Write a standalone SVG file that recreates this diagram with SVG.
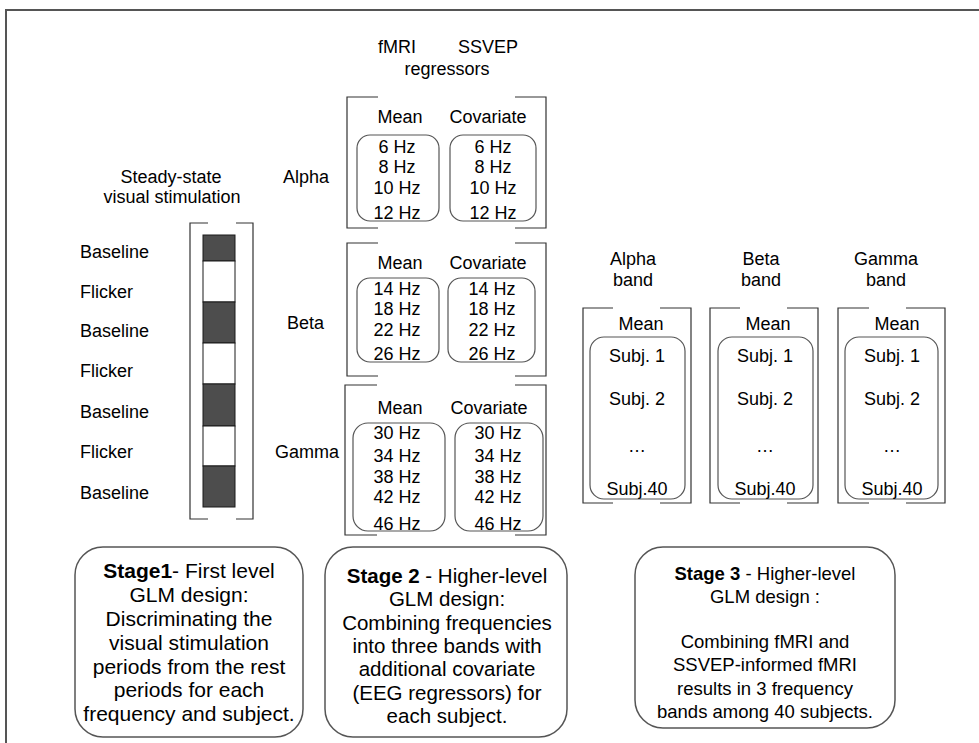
<svg xmlns="http://www.w3.org/2000/svg" width="979" height="743" viewBox="0 0 979 743">
<style>
text{font-family:"Liberation Sans",Arial,sans-serif;font-size:18px;fill:#000}
.c{text-anchor:middle}
.br{fill:none;stroke:#333;stroke-width:1.2}
.ib{fill:none;stroke:#555;stroke-width:1.2}
.sb{fill:#fff;stroke:#555;stroke-width:1.5}
.dk{fill:#4d4d4d;stroke:#1a1a1a;stroke-width:1}
.wt{fill:#fff;stroke:#1a1a1a;stroke-width:1}
.b{font-weight:bold}
.s1{font-size:21px}
.s2{font-size:20.5px}
.s3{font-size:18.5px}
</style>
<rect width="979" height="743" fill="#fff"/>
<path d="M6 743V10H979" fill="none" stroke="#555" stroke-width="2"/>

<g id="stimulation">
  <text class="c" x="171" y="183">Steady-state</text>
  <text class="c" x="172" y="203">visual stimulation</text>
  <path class="br" d="M208 223H190V519H208M236 223H253V519H236"/>
  <rect class="dk" x="203" y="235" width="32" height="26"/>
  <rect class="wt" x="203" y="261" width="32" height="41"/>
  <rect class="dk" x="203" y="302" width="32" height="41"/>
  <rect class="wt" x="203" y="343" width="32" height="41"/>
  <rect class="dk" x="203" y="384" width="32" height="42"/>
  <rect class="wt" x="203" y="426" width="32" height="40"/>
  <rect class="dk" x="203" y="466" width="32" height="41"/>
  <text x="80" y="258">Baseline</text>
  <text x="80" y="298">Flicker</text>
  <text x="80" y="337">Baseline</text>
  <text x="80" y="377">Flicker</text>
  <text x="80" y="418">Baseline</text>
  <text x="80" y="458">Flicker</text>
  <text x="80" y="499">Baseline</text>
</g>

<g id="regressors-header">
  <text x="378" y="53">fMRI</text>
  <text x="458" y="53">SSVEP</text>
  <text class="c" x="447" y="75">regressors</text>
</g>

<g id="alpha-regressors">
  <text x="283" y="183">Alpha</text>
  <path class="br" d="M378 97H347V228H378M515 97H546V228H515"/>
  <text class="c" x="400" y="123">Mean</text>
  <text class="c" x="488" y="123">Covariate</text>
  <rect class="ib" x="357" y="135" width="82" height="86" rx="13"/>
  <rect class="ib" x="450" y="135" width="86" height="86" rx="13"/>
  <text class="c" x="397" y="153">6 Hz</text>
  <text class="c" x="397" y="173">8 Hz</text>
  <text class="c" x="397" y="194">10 Hz</text>
  <text class="c" x="397" y="219">12 Hz</text>
  <text class="c" x="493" y="153">6 Hz</text>
  <text class="c" x="493" y="173">8 Hz</text>
  <text class="c" x="493" y="194">10 Hz</text>
  <text class="c" x="493" y="219">12 Hz</text>
</g>

<g id="beta-regressors">
  <text x="287" y="329">Beta</text>
  <path class="br" d="M378 243H347V376H378M515 243H546V376H515"/>
  <text class="c" x="400" y="269">Mean</text>
  <text class="c" x="488" y="269">Covariate</text>
  <rect class="ib" x="357" y="278" width="82" height="84" rx="13"/>
  <rect class="ib" x="448" y="278" width="87" height="84" rx="13"/>
  <text class="c" x="397" y="295">14 Hz</text>
  <text class="c" x="397" y="315">18 Hz</text>
  <text class="c" x="397" y="336">22 Hz</text>
  <text class="c" x="397" y="360">26 Hz</text>
  <text class="c" x="492" y="295">14 Hz</text>
  <text class="c" x="492" y="315">18 Hz</text>
  <text class="c" x="492" y="336">22 Hz</text>
  <text class="c" x="492" y="360">26 Hz</text>
</g>

<g id="gamma-regressors">
  <text x="275" y="458">Gamma</text>
  <path class="br" d="M377 385H345V535H377M515 385H546V535H515"/>
  <text class="c" x="400" y="414">Mean</text>
  <text class="c" x="489" y="414">Covariate</text>
  <rect class="ib" x="353" y="423" width="92" height="108" rx="15"/>
  <rect class="ib" x="455" y="423" width="88" height="108" rx="15"/>
  <text class="c" x="397" y="439">30 Hz</text>
  <text class="c" x="397" y="462">34 Hz</text>
  <text class="c" x="397" y="483">38 Hz</text>
  <text class="c" x="397" y="503">42 Hz</text>
  <text class="c" x="397" y="530">46 Hz</text>
  <text class="c" x="498" y="439">30 Hz</text>
  <text class="c" x="498" y="462">34 Hz</text>
  <text class="c" x="498" y="483">38 Hz</text>
  <text class="c" x="498" y="503">42 Hz</text>
  <text class="c" x="498" y="530">46 Hz</text>
</g>

<g id="alpha-band">
  <text class="c" x="633" y="265">Alpha</text>
  <text class="c" x="633" y="286">band</text>
  <path class="br" d="M613 308H583V503H613M660 308H691V503H660"/>
  <text class="c" x="641" y="330">Mean</text>
  <rect class="ib" x="590" y="337" width="95" height="162" rx="14"/>
  <text class="c" x="637" y="362">Subj. 1</text>
  <text class="c" x="637" y="405">Subj. 2</text>
  <text class="c" x="637" y="452">…</text>
  <text class="c" x="637" y="495">Subj.40</text>
</g>

<g id="beta-band">
  <text class="c" x="761" y="265">Beta</text>
  <text class="c" x="761" y="286">band</text>
  <path class="br" d="M740 308H710V503H740M787 308H818V503H787"/>
  <text class="c" x="768" y="330">Mean</text>
  <rect class="ib" x="718" y="337" width="95" height="162" rx="14"/>
  <text class="c" x="765" y="362">Subj. 1</text>
  <text class="c" x="765" y="405">Subj. 2</text>
  <text class="c" x="765" y="452">…</text>
  <text class="c" x="765" y="495">Subj.40</text>
</g>

<g id="gamma-band">
  <text class="c" x="886" y="265">Gamma</text>
  <text class="c" x="886" y="286">band</text>
  <path class="br" d="M869 308H838V503H869M906 308H945V503H906"/>
  <text class="c" x="897" y="330">Mean</text>
  <rect class="ib" x="845" y="337" width="93" height="162" rx="14"/>
  <text class="c" x="892" y="362">Subj. 1</text>
  <text class="c" x="892" y="405">Subj. 2</text>
  <text class="c" x="892" y="452">…</text>
  <text class="c" x="892" y="495">Subj.40</text>
</g>

<g id="stage1">
  <rect class="sb" x="75" y="547" width="228" height="190" rx="28"/>
  <text class="c s1" x="189" y="578"><tspan class="b">Stage1</tspan>- First level</text>
  <text class="c s1" x="189" y="602">GLM design:</text>
  <text class="c s1" x="189" y="626">Discriminating the</text>
  <text class="c s1" x="189" y="650">visual stimulation</text>
  <text class="c s1" x="189" y="674">periods from the rest</text>
  <text class="c s1" x="189" y="697">periods for each</text>
  <text class="c s1" x="189" y="721">frequency and subject.</text>
</g>

<g id="stage2">
  <rect class="sb" x="325" y="547" width="242" height="190" rx="28"/>
  <text class="c s2" x="447" y="583"><tspan class="b">Stage 2</tspan> - Higher-level</text>
  <text class="c s2" x="447" y="606">GLM design:</text>
  <text class="c s2" x="447" y="630">Combining frequencies</text>
  <text class="c s2" x="447" y="653">into three bands with</text>
  <text class="c s2" x="447" y="676">additional covariate</text>
  <text class="c s2" x="447" y="700">(EEG regressors) for</text>
  <text class="c s2" x="447" y="723">each subject.</text>
</g>

<g id="stage3">
  <rect class="sb" x="635" y="547" width="260" height="181" rx="28"/>
  <text class="c s3" x="765" y="580"><tspan class="b">Stage 3</tspan> - Higher-level</text>
  <text class="c s3" x="765" y="603">GLM design :</text>
  <text class="c s3" x="765" y="648">Combining fMRI and</text>
  <text class="c s3" x="765" y="671">SSVEP-informed fMRI</text>
  <text class="c s3" x="765" y="695">results in 3 frequency</text>
  <text class="c s3" x="765" y="718">bands among 40 subjects.</text>
</g>

<g id="connectors"></g>
</svg>
